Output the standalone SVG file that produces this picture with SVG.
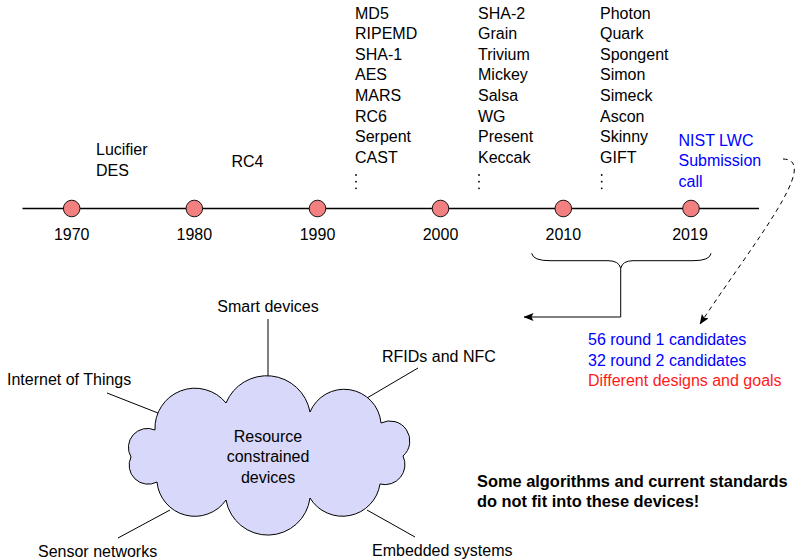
<svg xmlns="http://www.w3.org/2000/svg" width="805" height="560" viewBox="0 0 805 560">
<style>
text{font-family:"Liberation Sans",Arial,sans-serif;font-size:16px;fill:#000}
.y{text-anchor:middle}
.b{fill:#0000ff}
.r{fill:#ff1a1a}
.bold{font-weight:bold;font-size:16.4px}
.mid{text-anchor:middle}
.dot{fill:#000}
.node{fill:#f28080;stroke:#000;stroke-width:0.9}
.ln{fill:none;stroke:#000;stroke-width:1}
</style>
<defs>
<marker id="ah" viewBox="0 0 10 8" refX="9.5" refY="4" markerWidth="10" markerHeight="8" markerUnits="userSpaceOnUse" orient="auto">
<path d="M0,0 L10,4 L0,8 L2,4 Z" fill="#000"/>
</marker>
</defs>
<rect width="805" height="560" fill="#fff"/>

<g id="connectors">
<line x1="22.5" y1="208.5" x2="759" y2="208.5" stroke="#000" stroke-width="1.6"/>
<path class="ln" d="M531.7,253.3 Q533,260.7 550,260.7 L608,260.7 Q619,260.7 620.7,268.3 Q622.5,260.7 633,260.7 L693,260.7 Q710,260.7 711,253.3"/>
<path class="ln" d="M620.7,268.3 L620.7,317 L524,317" stroke-width="1.3" marker-end="url(#ah)"/>
<path class="ln" d="M783,159 C822,160 752,245 700,324" stroke-dasharray="4.5 4" marker-end="url(#ah)"/>
<line class="ln" x1="268" y1="319" x2="268" y2="378"/>
<line class="ln" x1="418" y1="368" x2="367" y2="398"/>
<line class="ln" x1="107" y1="393" x2="158" y2="413"/>
<line class="ln" x1="118" y1="538" x2="170" y2="510"/>
<line class="ln" x1="367" y1="510" x2="415" y2="537"/>
</g>

<g id="timeline">
<circle class="node" cx="71.7" cy="208.5" r="8.3"/>
<circle class="node" cx="194.3" cy="208.5" r="8.3"/>
<circle class="node" cx="317.5" cy="208.5" r="8.3"/>
<circle class="node" cx="440.5" cy="208.5" r="8.3"/>
<circle class="node" cx="563.3" cy="208.5" r="8.3"/>
<circle class="node" cx="691" cy="208.5" r="8.3"/>
<text class="y" x="71.7" y="240">1970</text>
<text class="y" x="194.3" y="240">1980</text>
<text class="y" x="317.5" y="240">1990</text>
<text class="y" x="440.5" y="240">2000</text>
<text class="y" x="563.3" y="240">2010</text>
<text class="y" x="690" y="240">2019</text>
</g>

<g id="col1970">
<text x="96" y="155">Lucifier</text>
<text x="96" y="176">DES</text>
</g>
<g id="col1980">
<text x="231.5" y="167">RC4</text>
</g>
<g id="col1990">
<text x="355" y="18.5">MD5</text>
<text x="355" y="39.1">RIPEMD</text>
<text x="355" y="59.7">SHA-1</text>
<text x="355" y="80.3">AES</text>
<text x="355" y="100.9">MARS</text>
<text x="355" y="121.5">RC6</text>
<text x="355" y="142.1">Serpent</text>
<text x="355" y="162.7">CAST</text>
<circle class="dot" cx="356" cy="175" r="0.9"/>
<circle class="dot" cx="356" cy="181.7" r="0.9"/>
<circle class="dot" cx="356" cy="188.3" r="0.9"/>
</g>
<g id="col2000">
<text x="478" y="18.5">SHA-2</text>
<text x="478" y="39.1">Grain</text>
<text x="478" y="59.7">Trivium</text>
<text x="478" y="80.3">Mickey</text>
<text x="478" y="100.9">Salsa</text>
<text x="478" y="121.5">WG</text>
<text x="478" y="142.1">Present</text>
<text x="478" y="162.7">Keccak</text>
<circle class="dot" cx="479" cy="175" r="0.9"/>
<circle class="dot" cx="479" cy="181.7" r="0.9"/>
<circle class="dot" cx="479" cy="188.3" r="0.9"/>
</g>
<g id="col2010">
<text x="600" y="18.5">Photon</text>
<text x="600" y="39.1">Quark</text>
<text x="600" y="59.7">Spongent</text>
<text x="600" y="80.3">Simon</text>
<text x="600" y="100.9">Simeck</text>
<text x="600" y="121.5">Ascon</text>
<text x="600" y="142.1">Skinny</text>
<text x="600" y="162.7">GIFT</text>
<circle class="dot" cx="601.7" cy="175" r="0.9"/>
<circle class="dot" cx="601.7" cy="181.7" r="0.9"/>
<circle class="dot" cx="601.7" cy="188.3" r="0.9"/>
</g>
<g id="nist">
<text class="b" x="678.5" y="145.5">NIST LWC</text>
<text class="b" x="678.5" y="166.3">Submission</text>
<text class="b" x="678.5" y="186.5">call</text>
</g>

<g id="candidates">
<text class="b" x="588" y="345">56 round 1 candidates</text>
<text class="b" x="588" y="365.5">32 round 2 candidates</text>
<text class="r" x="588" y="386">Different designs and goals</text>
</g>

<g id="cloud">
<path d="M155,430 A40,40 0 0 1 226,403 A44,44 0 0 1 310,412 A37,37 0 0 1 381,423 A20,20 0 0 1 403,456 A20,20 0 0 1 380,484 A38,38 0 0 1 310,498 A42.5,42.5 0 0 1 226,500 A38,38 0 0 1 157,482 A19,19 0 0 1 131,457 A19,19 0 0 1 155,430 Z" fill="#d8d8fa" stroke="#000" stroke-width="1"/>
<text class="mid" x="268" y="441.5">Resource</text>
<text class="mid" x="268" y="462">constrained</text>
<text class="mid" x="268" y="482.5">devices</text>
</g>

<g id="smart"><text class="mid" x="268" y="312">Smart devices</text></g>
<g id="rfid"><text x="382" y="362">RFIDs and NFC</text></g>
<g id="iot"><text x="7" y="385">Internet of Things</text></g>
<g id="sensor"><text x="38" y="557">Sensor networks</text></g>
<g id="embedded"><text x="372" y="556">Embedded systems</text></g>

<g id="note">
<text class="bold" x="477" y="486.5">Some algorithms and current standards</text>
<text class="bold" x="477" y="507">do not fit into these devices!</text>
</g>
</svg>
